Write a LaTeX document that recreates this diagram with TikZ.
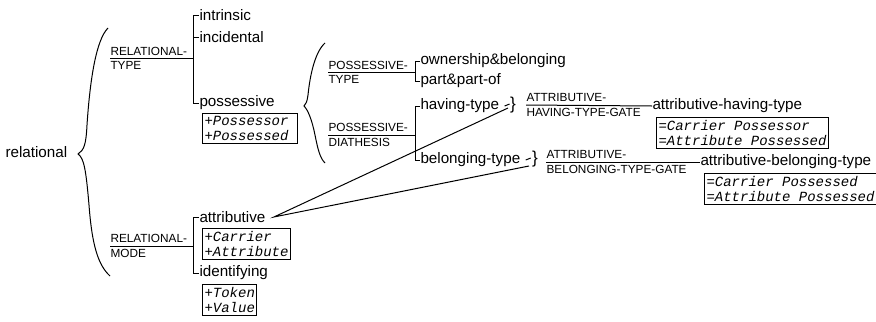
\documentclass[tikz,border=0pt]{standalone}
\usepackage{fontspec}
\setmainfont{Liberation Sans}
\setmonofont{Liberation Mono}

\begin{document}
\begin{tikzpicture}[x=0.5pt,y=-0.5pt,line width=0.5pt,
    feat/.style={anchor=west,inner sep=0pt,font=\fontsize{7.6}{9}\selectfont},
    sysname/.style={anchor=west,inner sep=0pt,align=left,font=\fontsize{5.9}{7.1}\selectfont},
    realbox/.style={draw,anchor=north west,align=left,inner xsep=1pt,inner ysep=1.2pt,font=\fontsize{7}{7.9}\selectfont\ttfamily\itshape},
    conj/.style={inner sep=0pt,font=\fontsize{8.6}{9}\selectfont}]

    \useasboundingbox (0,0) rectangle (876,321);

    \node[feat] (rel) at (5,152) {relational};
    \draw (108,28) .. controls (96,40) and (90,80) .. (87,125) .. controls (86,145) and (84,150) .. (78,154)
        .. controls (84,158) and (86,170) .. (89,205) .. controls (92,245) and (98,265) .. (110,276);

    \node[sysname] (rtype) at (110,58) {RELATIONAL-\\TYPE};
    \coordinate (rtbar) at (193,58);
    \node[feat] (intr) at (199,15) {intrinsic};
    \node[feat] (incid) at (199,37) {incidental};
    \node[feat] (poss) at (199,103) {possessive};
    \node[realbox,text width=45.5pt] (possbox) at (202,113) {+Possessor\\+Possessed};
    \draw (rtype.west) -- (rtbar);
    \draw (intr.west) -- ++(-6,0) |- (poss.west);
    \draw (incid.west) -- ++(-6,0);

    \draw (325,43) .. controls (315,52) and (310,75) .. (308,95) .. controls (307,102) and (306,104) .. (304,106)
        .. controls (308,110) and (312,120) .. (315,135) .. controls (318,150) and (320,158) .. (325,163);

    \node[sysname] (ptype) at (328,72) {POSSESSIVE-\\TYPE};
    \coordinate (ptbar) at (415,72);
    \node[feat] (own) at (420,61) {ownership\&belonging};
    \node[feat] (part) at (420,81) {part\&part-of};
    \draw (ptype.west) -- (ptbar);
    \draw (own.west) -- ++(-5,0) |- (part.west);

    \node[sysname] (pdia) at (328,135) {POSSESSIVE-\\DIATHESIS};
    \coordinate (pdbar) at (415,135);
    \node[feat] (havt) at (420,106) {having-type};
    \node[feat] (belt) at (420,160) {belonging-type};
    \draw (pdia.west) -- (pdbar);
    \draw (havt.west) -- ++(-5,0) |- (belt.west);

    \node[sysname] (rmode) at (110,246) {RELATIONAL-\\MODE};
    \coordinate (rmbar) at (193,246);
    \node[feat] (attr) at (199,217) {attributive};
    \node[feat] (ident) at (199,273) {identifying};
    \node[realbox] (attrbox) at (202,228) {+Carrier\\+Attribute};
    \node[realbox] (identbox) at (202,284) {+Token\\+Value};
    \draw (rmode.west) -- (rmbar);
    \draw (attr.west) -- ++(-6,0) |- (ident.west);

    \node[conj] (hconj) at (513,105) {\}};
    \node[conj] (bconj) at (535,159) {\}};
    \coordinate (hjoin) at (508,108);
    \coordinate (bjoin) at (529,166);
    \draw ([xshift=2.5pt]havt.east) -- ++(5,-2);
    \draw ([xshift=2.5pt]belt.east) -- ++(5,-2);
    \draw (hjoin) -- ([xshift=4pt]attr.east) -- (bjoin);

    \node[sysname] (hgate) at (526,105) {ATTRIBUTIVE-\\HAVING-TYPE-GATE};
    \node[feat] (aht) at (652,106) {attributive-having-type};
    \node[realbox] (ahtbox) at (656,117) {=Carrier Possessor\\=Attribute Possessed};
    \draw (hgate.west) -- (aht.west);

    \node[sysname] (bgate) at (546,162) {ATTRIBUTIVE-\\BELONGING-TYPE-GATE};
    \node[feat] (abt) at (700,162) {attributive-belonging-type};
    \node[realbox] (abtbox) at (704,173) {=Carrier Possessed\\=Attribute Possessed};
    \draw (bgate.west) -- (abt.west);

\end{tikzpicture}
\end{document}
